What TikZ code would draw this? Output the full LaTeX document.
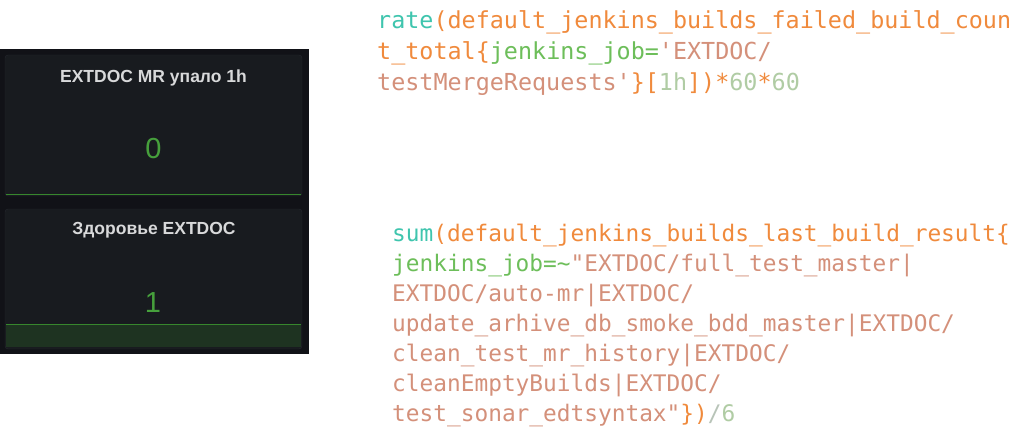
\documentclass[tikz,border=0pt]{standalone}
\usepackage{fontspec}
\setmainfont{Liberation Sans}
\newfontfamily\codefont{DejaVu Sans Mono}
\definecolor{bgdark}{HTML}{111217}
\definecolor{panelbg}{HTML}{181B1F}
\definecolor{panelline}{HTML}{25282E}
\definecolor{titlegray}{HTML}{D8D9DA}
\definecolor{valgreen}{HTML}{46A03C}
\definecolor{bandline}{HTML}{37872D}
\definecolor{bandfill}{HTML}{1E3321}
\definecolor{cfun}{HTML}{3FC5AE}
\definecolor{corg}{HTML}{F08A3C}
\definecolor{cgrn}{HTML}{6DBE5A}
\definecolor{cstr}{HTML}{D4907A}
\definecolor{cnum}{HTML}{B0CCA4}
\definecolor{cop}{HTML}{B8C4B8}
\newcommand{\fnc}[1]{\textcolor{cfun}{#1}}
\newcommand{\idt}[1]{\textcolor{corg}{#1}}
\newcommand{\lbl}[1]{\textcolor{cgrn}{#1}}
\newcommand{\strg}[1]{\textcolor{cstr}{#1}}
\newcommand{\numb}[1]{\textcolor{cnum}{#1}}
\begin{document}
\begin{tikzpicture}[x=1pt, y=-1pt, every node/.style={inner sep=0pt},
  title/.style={anchor=base, text=titlegray, font=\bfseries\fontsize{17.5}{20}\selectfont},
  value/.style={anchor=base, text=valgreen, font=\fontsize{29}{32}\selectfont},
  codeA/.style={anchor=base west, font=\codefont\fontsize{23.4}{30}\selectfont},
  codeB/.style={anchor=base west, font=\codefont\fontsize{22.8}{30}\selectfont}]

\useasboundingbox (0,0) rectangle (1024,433);
\fill[white] (0,0) rectangle (1024,433);

\fill[bgdark] (0,49) rectangle (309,354);
\draw[panelline, fill=panelbg, rounded corners=3] (5,55) rectangle (302,196);
\draw[panelline, fill=panelbg, rounded corners=3] (5,209) rectangle (302,349);
\draw[bandline, line width=1.5] (6,194.5) -- (301,194.5);
\fill[bandfill] (6,324) rectangle (301,347);
\draw[bandline, line width=1.5] (6,324.5) -- (301,324.5);

\node[title] (mrtitle) at (153.5,83) {EXTDOC MR упало 1h};
\node[value] (mrvalue) at (153.5,158) {0};
\node[title] (healthtitle) at (154,234) {Здоровье EXTDOC};
\node[value] (healthvalue) at (153,312) {1};

\node[codeA] (rateA) at (377,29) {\fnc{rate}\idt{(default\_jenkins\_builds\_failed\_build\_coun}};
\node[codeA] (rateB) at (377,60) {\idt{t\_total\{}\lbl{jenkins\_job=}\strg{\textquotesingle EXTDOC/}};
\node[codeA] (rateC) at (377,91) {\strg{testMergeRequests\textquotesingle}\idt{\}[}\numb{1h}\idt{])*}\numb{60}\idt{*}\numb{60}};

\node[codeB] (sumA) at (392,241) {\fnc{sum}\idt{(default\_jenkins\_builds\_last\_build\_result\{}};
\node[codeB] (sumB) at (392,271) {\lbl{jenkins\_job=\textasciitilde}\strg{\textquotedbl EXTDOC/full\_test\_master\textbar}};
\node[codeB] (sumC) at (392,301) {\strg{EXTDOC/auto-mr\textbar EXTDOC/}};
\node[codeB] (sumD) at (392,331) {\strg{update\_arhive\_db\_smoke\_bdd\_master\textbar EXTDOC/}};
\node[codeB] (sumE) at (392,361) {\strg{clean\_test\_mr\_history\textbar EXTDOC/}};
\node[codeB] (sumF) at (392,391) {\strg{cleanEmptyBuilds\textbar EXTDOC/}};
\node[codeB] (sumG) at (392,421) {\strg{test\_sonar\_edtsyntax\textquotedbl}\idt{\})}\textcolor{cop}{/}\numb{6}};

\end{tikzpicture}
\end{document}
